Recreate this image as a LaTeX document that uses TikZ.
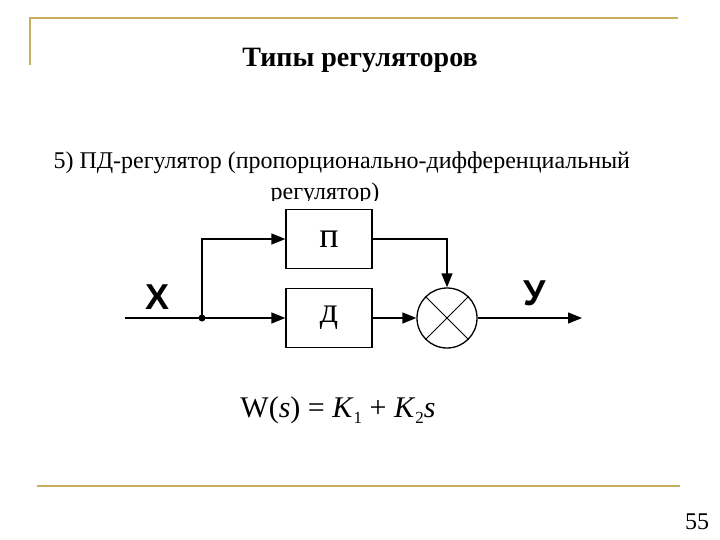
\documentclass[tikz,border=0pt]{standalone}
\usepackage{fontspec}
\setmainfont{Liberation Serif}
\newfontfamily\lsans{Liberation Sans}
\usetikzlibrary{arrows.meta}
\begin{document}
\begin{tikzpicture}[x=1pt,y=-1pt,
  blk/.style={draw,line width=1.3pt,minimum width=86pt,minimum height=59pt,inner sep=0pt,font=\fontsize{36}{38}\selectfont},
  arr/.style={line width=1.3pt,-{Triangle[length=14pt,width=11pt]}},
  ln/.style={line width=1.3pt},
  gold/.style={draw=frame,line width=1.5pt}]
\definecolor{frame}{RGB}{200,175,95}
\useasboundingbox (0,0) rectangle (720,540);
\draw[gold] (30,65) -- (30,18) -- (678,18);
\draw[gold] (37,486) -- (680,486);
\node (title) at (360,60) {\fontsize{28}{30}\selectfont\bfseries Типы регуляторов};
\node[anchor=west] (l1) at (50,163) {\fontsize{24}{26}\selectfont 5) ПД-регулятор (пропорционально-дифференциальный};
\begin{scope}
\clip (0,0) rectangle (720,201);
\node (l2) at (325,194) {\fontsize{24}{26}\selectfont регулятор)};
\end{scope}
\node[blk] (p) at (329,239) {п};
\node[blk] (d) at (329,318) {д};
\node[draw,line width=1.3pt,circle,minimum size=60pt,inner sep=0pt] (s) at (447,318) {};
\draw[line width=0.9pt] (s.45) -- (s.225) (s.135) -- (s.315);
\coordinate (in) at (125,318);
\coordinate (j) at (202,318);
\coordinate (out) at (582,318);
\fill (j) circle (3.5pt);
\draw[ln] (in) -- (j);
\draw[arr] (j) |- (p.west);
\draw[arr] (j) -- (d.west);
\draw[arr] (p.east) -| (s.north);
\draw[arr] (d.east) -- (s.west);
\draw[arr] (s.east) -- (out);
\node (x) at (158,297) {\lsans\bfseries\fontsize{36}{36}\selectfont X};
\node (y) at (535,293) {\lsans\bfseries\fontsize{36}{36}\selectfont У};
\node (w) at (338,410) {\fontsize{30}{32}\selectfont W(\textit{s}) = \textit{K}\raisebox{-6pt}{\fontsize{17}{18}\selectfont 1} + \textit{K}\raisebox{-6pt}{\fontsize{17}{18}\selectfont 2}\textit{s}};
\node (n) at (697,522) {\fontsize{24}{26}\selectfont 55};
\end{tikzpicture}
\end{document}
